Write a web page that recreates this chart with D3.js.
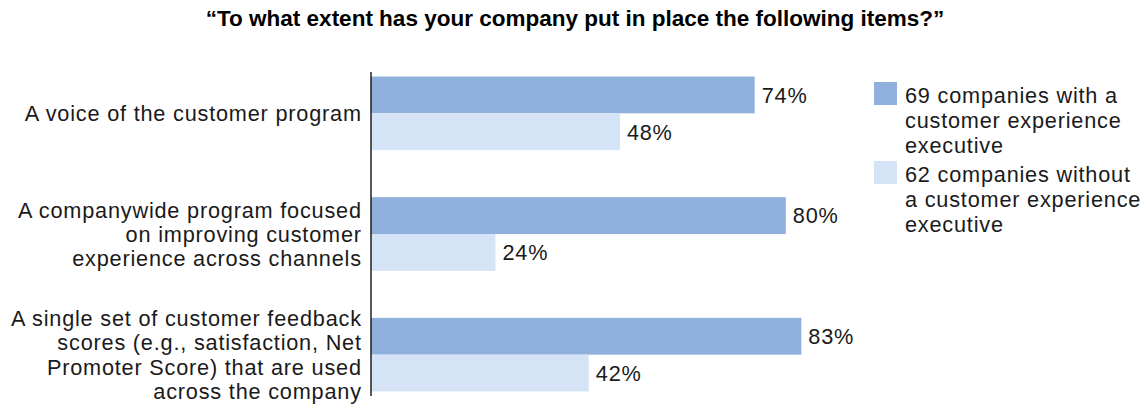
<!DOCTYPE html>
<html>
<head>
<meta charset="utf-8">
<script src="https://cdn.jsdelivr.net/npm/d3@7"></script>
<style>
  html, body { margin: 0; padding: 0; background: #ffffff; }
  svg { display: block; }
</style>
</head>
<body>
<svg id="chart" width="1148" height="408"></svg>
<script>
// Survey items (labels wrapped as printed)
const categories = [
  "A voice of the customer program",
  "A companywide program focused on improving customer experience across channels",
  "A single set of customer feedback scores (e.g., satisfaction, Net Promoter Score) that are used across the company"
];
const categoryLines = [
  ["A voice of the customer program"],
  ["A companywide program focused", "on improving customer", "experience across channels"],
  ["A single set of customer feedback", "scores (e.g., satisfaction, Net", "Promoter Score) that are used", "across the company"]
];
const seriesNames = [
  "69 companies with a customer experience executive",
  "62 companies without a customer experience executive"
];
const legendLines = [
  ["69 companies with a", "customer experience", "executive"],
  ["62 companies without", "a customer experience", "executive"]
];
const withExec = [74, 80, 83];
const withoutExec = [48, 24, 42];
const title = "\u201CTo what extent has your company put in place the following items?\u201D";

const colors = ["#8fb0dc", "#d4e3f5"];
const textColor = "#1a1a1a";
const labelFont = "'Liberation Sans', Arial, sans-serif";
const labelSize = 21.7;
const tracking = 0.8;

const svg = d3.select("#chart");

const x = d3.scaleLinear().domain([0, 100]).range([371, 889.5]);
const y = d3.scaleBand().domain(categories).range([53, 415]).paddingInner(0.39).paddingOuter(0.195);
const ySub = d3.scaleBand().domain(seriesNames).range([0, y.bandwidth()]);

const rows = categories.map((c, i) => ({
  cat: c,
  lines: categoryLines[i],
  values: [withExec[i], withoutExec[i]]
}));

// Title
svg.append("text")
  .attr("x", 575).attr("y", 26)
  .attr("text-anchor", "middle")
  .attr("font-family", "'Liberation Sans', Arial, sans-serif")
  .attr("font-weight", "bold")
  .attr("font-size", 22.5)
  .attr("fill", "#000")
  .text(title);

// Bars
const groups = svg.append("g").selectAll("g")
  .data(rows).join("g")
  .attr("transform", d => `translate(0,${y(d.cat)})`);

groups.selectAll("rect")
  .data(d => d.values.map((v, k) => ({ v, s: seriesNames[k], k })))
  .join("rect")
  .attr("x", x(0))
  .attr("y", d => ySub(d.s))
  .attr("width", d => x(d.v) - x(0))
  .attr("height", ySub.bandwidth())
  .attr("fill", d => colors[d.k]);

groups.selectAll("text.val")
  .data(d => d.values.map((v, k) => ({ v, s: seriesNames[k] })))
  .join("text")
  .attr("class", "val")
  .attr("x", d => x(d.v) + 7)
  .attr("y", d => ySub(d.s) + ySub.bandwidth() / 2)
  .attr("dy", "0.36em")
  .attr("font-family", labelFont)
  .attr("font-size", labelSize)
  .attr("letter-spacing", tracking)
  .attr("fill", textColor)
  .text(d => d.v + "%");

// Category labels
const lineH = 24.3;
svg.append("g").selectAll("text")
  .data(rows).join("text")
  .attr("text-anchor", "end")
  .attr("font-family", labelFont)
  .attr("font-size", labelSize)
  .attr("letter-spacing", tracking)
  .attr("fill", textColor)
  .each(function(d) {
    const cy = y(d.cat) + y.bandwidth() / 2;
    const n = d.lines.length;
    d3.select(this).selectAll("tspan")
      .data(d.lines).join("tspan")
      .attr("x", 361 + tracking)
      .attr("y", (l, j) => cy + (j - (n - 1) / 2) * lineH)
      .attr("dy", "0.36em")
      .text(l => l);
  });

// Vertical axis line
svg.append("line")
  .attr("x1", x(0)).attr("x2", x(0))
  .attr("y1", 72).attr("y2", 396)
  .attr("stroke", "#000").attr("stroke-width", 1.3);

// Legend
const legend = svg.append("g").attr("transform", "translate(874,82)");
const legendItems = legend.selectAll("g")
  .data(seriesNames).join("g")
  .attr("transform", (d, i) => `translate(0,${i * 79})`);
legendItems.append("rect")
  .attr("width", 23).attr("height", 23)
  .attr("fill", (d, i) => colors[i]);
legendItems.append("text")
  .attr("font-family", labelFont)
  .attr("font-size", labelSize)
  .attr("letter-spacing", tracking)
  .attr("fill", textColor)
  .each(function(d, i) {
    d3.select(this).selectAll("tspan")
      .data(legendLines[i]).join("tspan")
      .attr("x", 31)
      .attr("y", (l, j) => 13 + j * 25)
      .attr("dy", "0.36em")
      .text(l => l);
  });
</script>
</body>
</html>
